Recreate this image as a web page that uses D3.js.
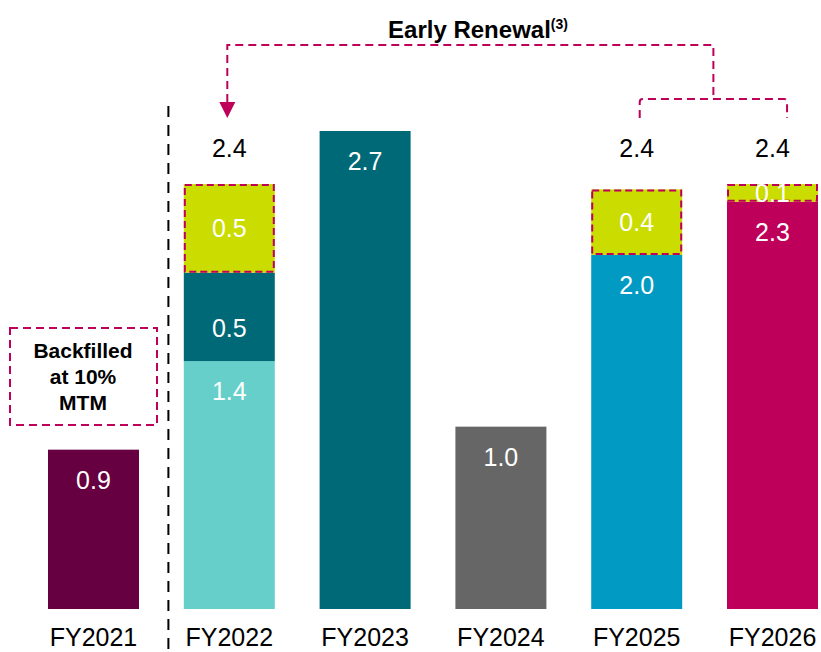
<!DOCTYPE html>
<html>
<head>
<meta charset="utf-8">
<script src="https://cdn.jsdelivr.net/npm/d3@7"></script>
<style>
  body { margin: 0; background: #fff; }
  svg { display: block; font-family: "Liberation Sans", Arial, sans-serif; }
</style>
</head>
<body>
<div id="chart"></div>
<script>
// data
const categories = ["FY2021", "FY2022", "FY2023", "FY2024", "FY2025", "FY2026"];
const baseValues = [0.9, 1.4, 2.7, 1.03, 2.0, 2.3];
const midValues = [0, 0.5, 0, 0, 0, 0];
const renewalValues = [0, 0.5, 0, 0, 0.37, 0.10];

chart()
function chart(){
  const width = 821, height = 652;
  const baseline = 609;

  const svg = d3.select("#chart")
    .append("svg")
      .attr("width", width)
      .attr("height", height);

  const baseColors = ["#660040", "#66cfca", "#006977", "#666666", "#009ac3", "#be005a"];
  const midColor = "#006977";
  const renewalColor = "#cadc00";
  const accent = "#be005a";

  // scales
  const x = d3.scaleBand()
    .domain(categories)
    .range([48, 818])
    .paddingInner(0.33)
    .paddingOuter(0);

  const y = d3.scaleLinear()
    .domain([0, 2.7])
    .range([baseline, 131]);

  const fmt = d3.format(".1f");

  // build stacked segments for every category
  const segments = [];
  categories.forEach(function(c, i){
    let acc = 0;
    [[baseValues[i], baseColors[i], false],
     [midValues[i], midColor, false],
     [renewalValues[i], renewalColor, true]].forEach(function(s){
      if (s[0] > 0) {
        segments.push({cat: c, y0: acc, y1: acc + s[0], value: s[0], color: s[1], dashed: s[2]});
        acc += s[0];
      }
    });
  });

  svg.selectAll("rect.seg")
    .data(segments)
    .join("rect")
      .attr("class", "seg")
      .attr("x", d => x(d.cat))
      .attr("width", x.bandwidth())
      .attr("y", d => y(d.y1))
      .attr("height", d => y(d.y0) - y(d.y1))
      .attr("fill", d => d.color);

  // dashed outline around the early renewal pieces
  svg.selectAll("rect.outline")
    .data(segments.filter(d => d.dashed))
    .join("rect")
      .attr("class", "outline")
      .attr("x", d => x(d.cat) + 1)
      .attr("width", x.bandwidth() - 2)
      .attr("y", d => y(d.y1) + 1)
      .attr("height", d => y(d.y0) - y(d.y1) - 2)
      .attr("fill", "none")
      .attr("stroke", accent)
      .attr("stroke-width", 2)
      .attr("stroke-dasharray", "7,4");

  // labels inside segments
  svg.selectAll("text.seg")
    .data(segments)
    .join("text")
      .attr("class", "seg")
      .attr("x", d => x(d.cat) + x.bandwidth() / 2)
      .attr("y", function(d){
        const top = y(d.y1), bot = y(d.y0);
        if (d.dashed) return (top + bot) / 2;
        return (bot - top) >= 120 ? top + 30 : top + 0.62 * (bot - top);
      })
      .attr("dy", "0.36em")
      .attr("text-anchor", "middle")
      .attr("fill", "#fff")
      .style("font-size", "25px")
      .text(d => fmt(d.value));

  // totals over the stacks that have an early renewal part
  const totals = categories.map((c, i) => ({cat: c, total: baseValues[i] + midValues[i] + renewalValues[i], show: renewalValues[i] > 0}))
    .filter(d => d.show);
  const totalY = y(d3.max(totals, d => d.total)) - 36;
  svg.selectAll("text.total")
    .data(totals)
    .join("text")
      .attr("class", "total")
      .attr("x", d => x(d.cat) + x.bandwidth() / 2)
      .attr("y", totalY)
      .attr("dy", "0.36em")
      .attr("text-anchor", "middle")
      .attr("fill", "#000")
      .style("font-size", "25px")
      .text(d => fmt(d.total));

  // category labels
  svg.selectAll("text.cat")
    .data(categories)
    .join("text")
      .attr("class", "cat")
      .attr("x", d => x(d) + x.bandwidth() / 2)
      .attr("y", 646)
      .attr("text-anchor", "middle")
      .attr("fill", "#000")
      .style("font-size", "25px")
      .text(d => d);

  // dashed divider between FY2021 and FY2022
  const divX = (x("FY2021") + x.bandwidth() + x("FY2022")) / 2 + 7;
  svg.append("line")
    .attr("x1", divX).attr("x2", divX)
    .attr("y1", 106).attr("y2", height)
    .attr("stroke", "#000")
    .attr("stroke-width", 2)
    .attr("stroke-dasharray", "11,8");

  // "Backfilled" note box
  svg.append("rect")
    .attr("x", 10).attr("y", 328)
    .attr("width", 147).attr("height", 97)
    .attr("fill", "none")
    .attr("stroke", accent)
    .attr("stroke-width", 2)
    .attr("stroke-dasharray", "8,5");
  svg.append("text")
    .attr("x", 83).attr("y", 358)
    .attr("text-anchor", "middle")
    .style("font-size", "21px")
    .style("font-weight", "bold")
    .selectAll("tspan")
    .data(["Backfilled", "at 10%", "MTM"])
    .join("tspan")
      .attr("x", 83)
      .attr("dy", (d, i) => i ? 26 : 0)
      .text(d => d);

  // early renewal bracket
  const leftX = x("FY2022") + x.bandwidth() / 2 - 2;
  const b1 = x("FY2025") + x.bandwidth() / 2 + 3;
  const b2 = x("FY2026") + x.bandwidth() * 0.66;
  const midX = (b1 + b2) / 2;
  const topY = 45, lowY = 99, endY = 118;

  const bracket = svg.append("g")
    .attr("fill", "none")
    .attr("stroke", accent)
    .attr("stroke-width", 2)
    .attr("stroke-dasharray", "8,5");

  bracket.append("path")
    .attr("d", `M${leftX},102 L${leftX},${topY} L${midX},${topY} L${midX},${lowY}`);
  bracket.append("path")
    .attr("d", `M${b1},${endY} L${b1},${lowY + 3} Q${b1},${lowY} ${b1 + 3},${lowY} L${b2 - 3},${lowY} Q${b2},${lowY} ${b2},${lowY + 3} L${b2},${endY}`);

  svg.append("path")
    .attr("d", `M${leftX - 8},102 L${leftX + 8},102 L${leftX},118 Z`)
    .attr("fill", accent);

  const title = svg.append("text")
    .attr("x", 478).attr("y", 38)
    .attr("text-anchor", "middle")
    .style("font-weight", "bold")
    .style("font-size", "24px");
  title.append("tspan").text("Early Renewal");
  title.append("tspan")
    .attr("dy", -9)
    .style("font-size", "14px")
    .text("(3)");
}
</script>
</body>
</html>
